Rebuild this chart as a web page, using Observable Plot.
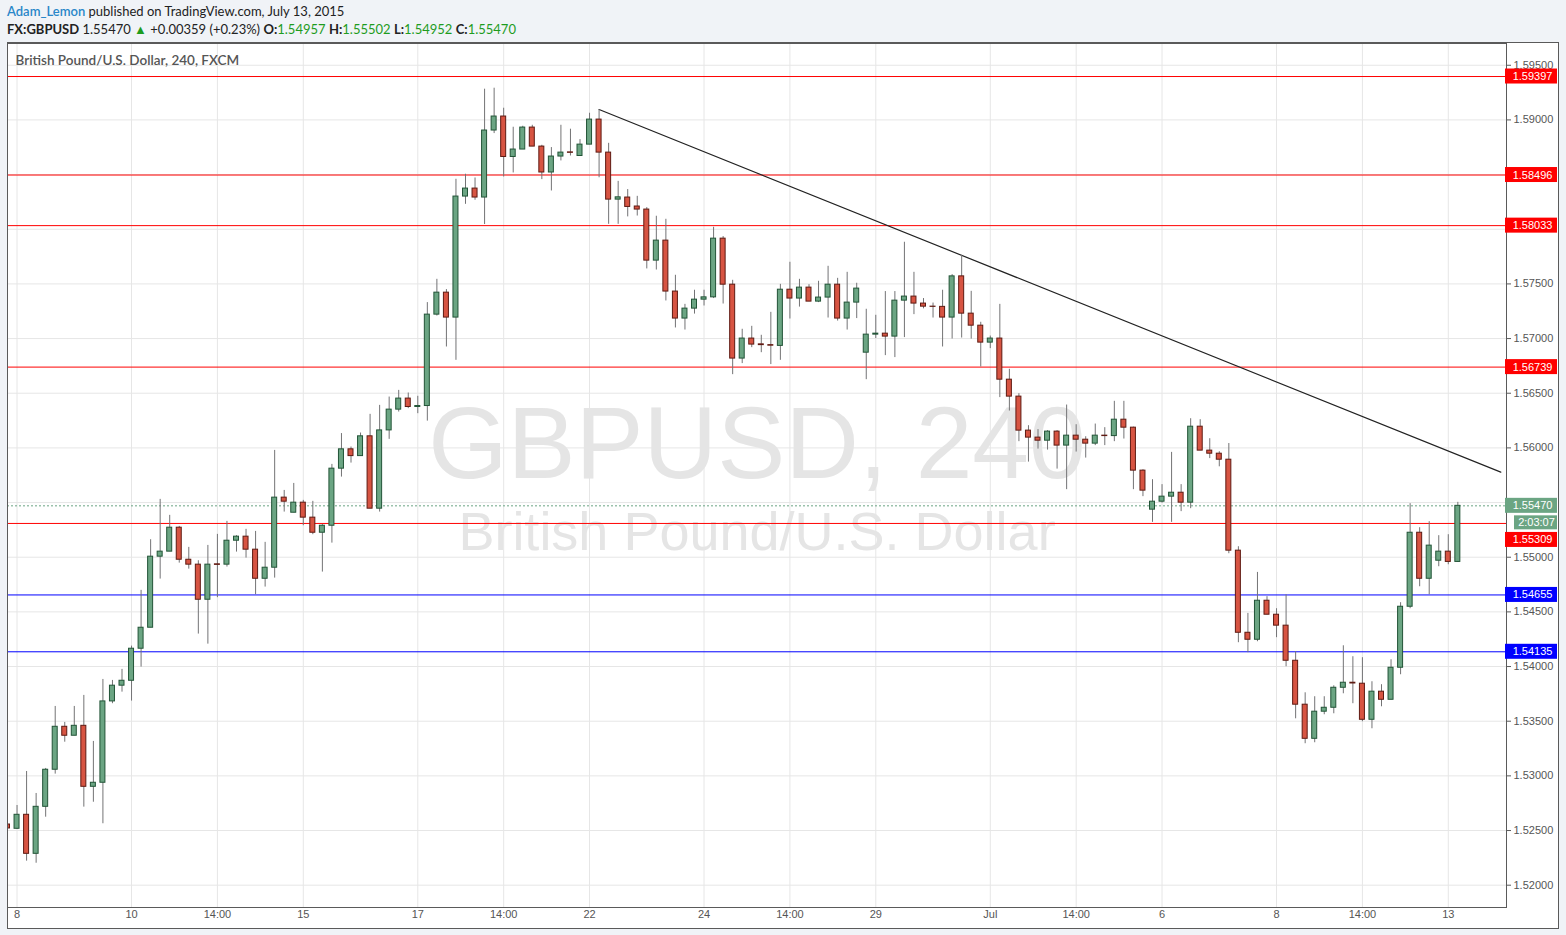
<!DOCTYPE html>
<html><head><meta charset="utf-8">
<script src="https://cdn.jsdelivr.net/npm/d3@7"></script>
<script src="https://cdn.jsdelivr.net/npm/@observablehq/plot@0.6"></script>
<style>
html,body{margin:0;padding:0;background:#f0f3f7;}
body{width:1566px;height:935px;position:relative;overflow:hidden;}
#hdr{position:absolute;left:7px;top:2px;font-family:Lato,"Open Sans",sans-serif;font-size:13px;color:#222;line-height:18px;white-space:nowrap;}
#hdr b{font-weight:700;}
#hdr .g{color:#1e9c1e;}
#frame{position:absolute;left:7px;top:42px;width:1552px;height:887px;background:#fff;border:1px solid #5a5a5a;box-sizing:border-box;}
#chart{position:absolute;left:0;top:42px;}
</style></head>
<body>
<div id="hdr">
<div><span style="color:#2a87c9;font-weight:600">Adam_Lemon</span> published on TradingView.com, July 13, 2015</div>
<div><b>FX:GBPUSD</b> 1.55470 <span class="g">&#9650;</span> +0.00359 (+0.23%) <b>O:</b><span class="g">1.54957</span> <b>H:</b><span class="g">1.55502</span> <b>L:</b><span class="g">1.54952</span> <b>C:</b><span class="g">1.55470</span></div>
</div>
<div id="frame"></div>
<div id="chart"></div>
<script>
// 4-hour candles, index 0 = first (partly hidden) bar
const open = [1.52555,1.52516,1.52644,1.52287,1.52717,1.53056,1.53449,1.53367,1.53458,1.52900,
1.52937,1.53681,1.53825,1.53870,1.54163,1.54355,1.55005,1.55051,1.55270,1.54977,
1.54932,1.54611,1.54935,1.54932,1.55151,1.55188,1.55069,1.54803,1.54904,1.55545,
1.55407,1.55499,1.55362,1.55224,1.55288,1.55810,1.55987,1.55925,1.56106,1.55444,
1.56160,1.56350,1.56451,1.56374,1.56383,1.57219,1.57420,1.57192,1.58299,1.58372,
1.58290,1.58903,1.59031,1.58661,1.58729,1.58930,1.58756,1.58519,1.58665,1.58703,
1.58670,1.58774,1.59003,1.58701,1.58271,1.58290,1.58208,1.58180,1.57713,1.57896,
1.57430,1.57183,1.57274,1.57356,1.57377,1.57914,1.57493,1.56817,1.57000,1.56947,
1.56940,1.56933,1.57447,1.57366,1.57466,1.57338,1.57375,1.57493,1.57183,1.57329,
1.56871,1.57036,1.57045,1.57018,1.57347,1.57384,1.57320,1.57292,1.57290,1.57192,
1.57569,1.57228,1.57118,1.56963,1.57000,1.56624,1.56469,1.56158,1.56094,1.56066,
1.56149,1.56021,1.56112,1.56075,1.56039,1.56112,1.56108,1.56258,1.56185,1.55792,
1.55435,1.55508,1.55554,1.55590,1.55499,1.56194,1.55975,1.55947,1.55892,1.55060,
1.54309,1.54245,1.54602,1.54474,1.54374,1.54053,1.53651,1.53339,1.53587,1.53623,
1.53806,1.53852,1.53843,1.53513,1.53770,1.53696,1.53989,1.54547,1.55224,1.54803,
1.54968,1.55051,1.54957];
const high = [1.52729,1.52729,1.53040,1.52839,1.53068,1.53635,1.53489,1.53635,1.53736,1.53315,
1.53882,1.53873,1.53974,1.54187,1.54697,1.55160,1.55529,1.55383,1.55282,1.55090,
1.54968,1.55108,1.55209,1.55328,1.55197,1.55255,1.55236,1.55136,1.55977,1.55611,
1.55675,1.55520,1.55511,1.55298,1.55849,1.56131,1.56008,1.56136,1.56307,1.56389,
1.56465,1.56526,1.56502,1.56472,1.57329,1.57542,1.57448,1.58457,1.58503,1.58469,
1.59281,1.59290,1.59107,1.58933,1.58942,1.58951,1.58768,1.58747,1.58951,1.58915,
1.58820,1.59061,1.59095,1.58786,1.58438,1.58363,1.58301,1.58198,1.58119,1.58091,
1.57579,1.57313,1.57442,1.57442,1.58018,1.57933,1.57533,1.57085,1.57112,1.57030,
1.57240,1.57496,1.57698,1.57542,1.57493,1.57524,1.57661,1.57551,1.57606,1.57506,
1.57268,1.57213,1.57430,1.57430,1.57881,1.57606,1.57366,1.57325,1.57442,1.57585,
1.57761,1.57432,1.57149,1.57023,1.57313,1.56719,1.56496,1.56203,1.56167,1.56158,
1.56158,1.56392,1.56212,1.56102,1.56218,1.56185,1.56426,1.56426,1.56190,1.55800,
1.55709,1.55664,1.55959,1.55664,1.56267,1.56258,1.56084,1.55965,1.56040,1.55096,
1.54486,1.54861,1.54639,1.54529,1.54657,1.54136,1.53760,1.53724,1.53724,1.53824,
1.54190,1.54090,1.54081,1.53861,1.53834,1.54062,1.54584,1.55490,1.55270,1.55325,
1.55197,1.55206,1.55502];
const low = [1.52500,1.52510,1.52220,1.52201,1.52622,1.53016,1.53308,1.53367,1.52714,1.52759,
1.52562,1.53660,1.53766,1.53684,1.53995,1.54355,1.54800,1.55051,1.54946,1.54891,
1.54297,1.54205,1.54630,1.54910,1.55047,1.54992,1.54657,1.54727,1.54809,1.55413,
1.55407,1.55288,1.55206,1.54864,1.55129,1.55733,1.55861,1.55925,1.55444,1.55413,
1.56078,1.56328,1.56359,1.56313,1.56245,1.57206,1.56923,1.56801,1.58228,1.58265,
1.58043,1.58875,1.58478,1.58515,1.58729,1.58756,1.58454,1.58350,1.58625,1.58670,
1.58670,1.58774,1.58471,1.58045,1.58045,1.58113,1.58121,1.57637,1.57627,1.57344,
1.57097,1.57078,1.57224,1.57298,1.57366,1.57316,1.56670,1.56771,1.56917,1.56871,
1.56762,1.56801,1.57179,1.57288,1.57338,1.57329,1.57188,1.57160,1.57078,1.57183,
1.56624,1.57000,1.56844,1.56826,1.57009,1.57219,1.57272,1.57188,1.56923,1.56996,
1.57005,1.56995,1.56740,1.56908,1.56460,1.56337,1.56057,1.55870,1.55989,1.55980,
1.55806,1.55618,1.55962,1.55907,1.56021,1.56021,1.56057,1.56081,1.55618,1.55554,
1.55319,1.55495,1.55319,1.55417,1.55444,1.55975,1.55902,1.55827,1.55032,1.54218,
1.54127,1.54227,1.54474,1.54264,1.53998,1.53522,1.53294,1.53303,1.53559,1.53568,
1.53751,1.53660,1.53495,1.53431,1.53632,1.53696,1.53925,1.54529,1.54730,1.54657,
1.54913,1.54931,1.54952];
const close = [1.52519,1.52644,1.52287,1.52717,1.53056,1.53449,1.53367,1.53458,1.52900,1.52937,
1.53681,1.53825,1.53870,1.54163,1.54355,1.55005,1.55051,1.55270,1.54977,1.54932,
1.54611,1.54932,1.54930,1.55151,1.55188,1.55069,1.54803,1.54904,1.55545,1.55508,
1.55499,1.55362,1.55224,1.55288,1.55810,1.55987,1.55925,1.56106,1.55444,1.56160,
1.56350,1.56451,1.56374,1.56383,1.57219,1.57420,1.57192,1.58299,1.58372,1.58290,
1.58903,1.59031,1.58661,1.58729,1.58930,1.58756,1.58519,1.58665,1.58701,1.58699,
1.58774,1.59003,1.58701,1.58271,1.58292,1.58204,1.58180,1.57713,1.57896,1.57430,
1.57183,1.57274,1.57356,1.57377,1.57914,1.57493,1.56817,1.57000,1.56945,1.56940,
1.56935,1.57447,1.57366,1.57466,1.57338,1.57375,1.57493,1.57183,1.57329,1.57457,
1.57036,1.57045,1.57018,1.57347,1.57384,1.57320,1.57292,1.57290,1.57192,1.57569,
1.57228,1.57118,1.56963,1.57000,1.56624,1.56469,1.56158,1.56094,1.56066,1.56149,
1.56021,1.56112,1.56075,1.56039,1.56112,1.56108,1.56258,1.56185,1.55792,1.55609,
1.55508,1.55554,1.55590,1.55499,1.56194,1.55975,1.55947,1.55892,1.55060,1.54309,
1.54245,1.54602,1.54474,1.54374,1.54053,1.53651,1.53339,1.53587,1.53623,1.53806,
1.53852,1.53845,1.53513,1.53770,1.53696,1.53989,1.54547,1.55224,1.54803,1.55106,
1.55051,1.54957,1.55470];

// horizontal support / resistance levels
const levelPrices = [1.59397,1.58496,1.58033,1.56739,1.55309,1.54655,1.54135];
const levelColors = ["#ff0000","#ff0000","#ff0000","#ff0000","#ff0000","#0000ff","#0000ff"];

// trend line endpoints (bar index, price)
const trendIdx = [62, 156.5];
const trendPrice = [1.59095, 1.55778];

// axis ticks (grid at every tick; labels hidden where price boxes cover them)
const yTicks = [1.52,1.525,1.53,1.535,1.54,1.545,1.55,1.555,1.56,1.565,1.57,1.575,1.58,1.585,1.59,1.595];
const yTickLabelled = [1.52,1.525,1.53,1.535,1.54,1.545,1.55,1.56,1.565,1.57,1.575,1.59,1.595];
const xTickIdx = [1,13,22,31,43,52,61,73,82,91,103,112,121,133,142,151];
const xTickLabels = ["8","10","14:00","15","17","14:00","22","24","14:00","29","Jul","14:00","6","8","14:00","13"];

const lastPrice = 1.55470;
const countdown = "2:03:07";

const candles = open.map((o, i) => ({i, open: o, high: high[i], low: low[i], close: close[i]}));
const levels = levelPrices.map((p, k) => ({price: p, color: levelColors[k]}));
const trend = trendIdx.map((x, k) => ({x, y: trendPrice[k]}));
const xLabel = new Map(xTickIdx.map((d, k) => [d, xTickLabels[k]]));
const fmt = d3.format(".5f");
const XMAX = 157.1;
// the 1.55309 label is pushed below the countdown box, as in the original
const isPushed = d => Math.abs(d.price - lastPrice) < 0.002 && d.price < lastPrice;
const levelsAtLine = levels.filter(d => !isPushed(d));
const levelsPushed = levels.filter(isPushed);

const UP = "#6ba583", UPS = "#225437", DN = "#d75442", DNS = "#5e1a12";
const SANS = "'Liberation Sans', Arial, sans-serif";

const chart = Plot.plot({
  width: 1566, height: 893,
  marginLeft: 7, marginRight: 60, marginTop: 1, marginBottom: 28,
  style: {background: "transparent", fontFamily: SANS, fontSize: "11px", color: "#555", overflow: "visible"},
  x: {type: "linear", domain: [0, XMAX], axis: null},
  y: {domain: [1.51796, 1.59699], axis: null},
  marks: [
    Plot.gridY(yTicks, {stroke: "#e6e6e6", strokeOpacity: 1}),
    Plot.gridX(xTickIdx, {stroke: "#e6e6e6", strokeOpacity: 1}),
    Plot.text(["GBPUSD, 240"], {frameAnchor: "middle", dy: -30, fontSize: 102, fill: "#e5e5e5", fontFamily: SANS}),
    Plot.text(["British Pound/U.S. Dollar"], {frameAnchor: "middle", dy: 57, fontSize: 54, fill: "#e5e5e5", fontFamily: SANS}),
    Plot.text(["British Pound/U.S. Dollar, 240, FXCM"], {frameAnchor: "top-left", dx: 8, dy: 12, textAnchor: "start", fontSize: 13.5, fontWeight: 600, fill: "#555", fontFamily: "Lato, 'Open Sans', sans-serif"}),
    Plot.ruleY(levels, {y: "price", stroke: "color", strokeWidth: 1}),
    Plot.ruleY([lastPrice], {stroke: UP, strokeDasharray: "2,2"}),
    Plot.line(trend, {x: "x", y: "y", stroke: "#222", strokeWidth: 1.2, clip: true}),
    Plot.ruleX(candles, {x: "i", y1: "low", y2: "high", stroke: "#737375", strokeWidth: 1, clip: true}),
    Plot.rect(candles, {x1: "i", x2: "i", y1: "open", y2: "close", insetLeft: -2.5, insetRight: -2.5,
      fill: d => d.close >= d.open ? UP : DN, stroke: d => d.close >= d.open ? UPS : DNS, strokeWidth: 1, clip: true}),
    Plot.frame({stroke: "#5a5a5a"}),
    Plot.axisY(yTickLabelled, {anchor: "right", tickSize: 4, tickPadding: 3, tickFormat: fmt, stroke: "#5a5a5a", fill: "#555", fontSize: 11}),
    Plot.axisX(xTickIdx, {anchor: "bottom", tickSize: 0, tickPadding: 3, tickFormat: d => xLabel.get(d), fill: "#555", fontSize: 11}),
    // price label boxes on the axis
    Plot.rect(levelsAtLine, {x1: () => XMAX, x2: () => XMAX, y1: "price", y2: "price", insetLeft: -1, insetRight: -51, insetTop: -7.5, insetBottom: -7.5, fill: "color"}),
    Plot.text(levelsAtLine, {x: () => XMAX, y: "price", text: d => fmt(d.price), dx: 26, fill: "white", fontSize: 11}),
    Plot.rect(levelsPushed, {x1: () => XMAX, x2: () => XMAX, y1: "price", y2: "price", insetLeft: -1, insetRight: -51, insetTop: 9, insetBottom: -24, fill: "color"}),
    Plot.text(levelsPushed, {x: () => XMAX, y: "price", text: d => fmt(d.price), dx: 26, dy: 16.5, fill: "white", fontSize: 11}),
    Plot.rect([lastPrice], {x1: () => XMAX, x2: () => XMAX, y1: d => d, y2: d => d, insetLeft: -1, insetRight: -51, insetTop: -7.5, insetBottom: -7.5, fill: UP}),
    Plot.text([lastPrice], {x: () => XMAX, y: d => d, text: d => fmt(d), dx: 26, fill: "white", fontSize: 11}),
    Plot.rect([lastPrice], {x1: () => XMAX, x2: () => XMAX, y1: d => d, y2: d => d, insetLeft: 8, insetRight: -51, insetTop: 10, insetBottom: -24, fill: UP}),
    Plot.text([lastPrice], {x: () => XMAX, y: d => d, text: () => countdown, dx: 30, dy: 17, fill: "white", fontSize: 11})
  ]
});
document.getElementById("chart").append(chart);
</script>
</body></html>
